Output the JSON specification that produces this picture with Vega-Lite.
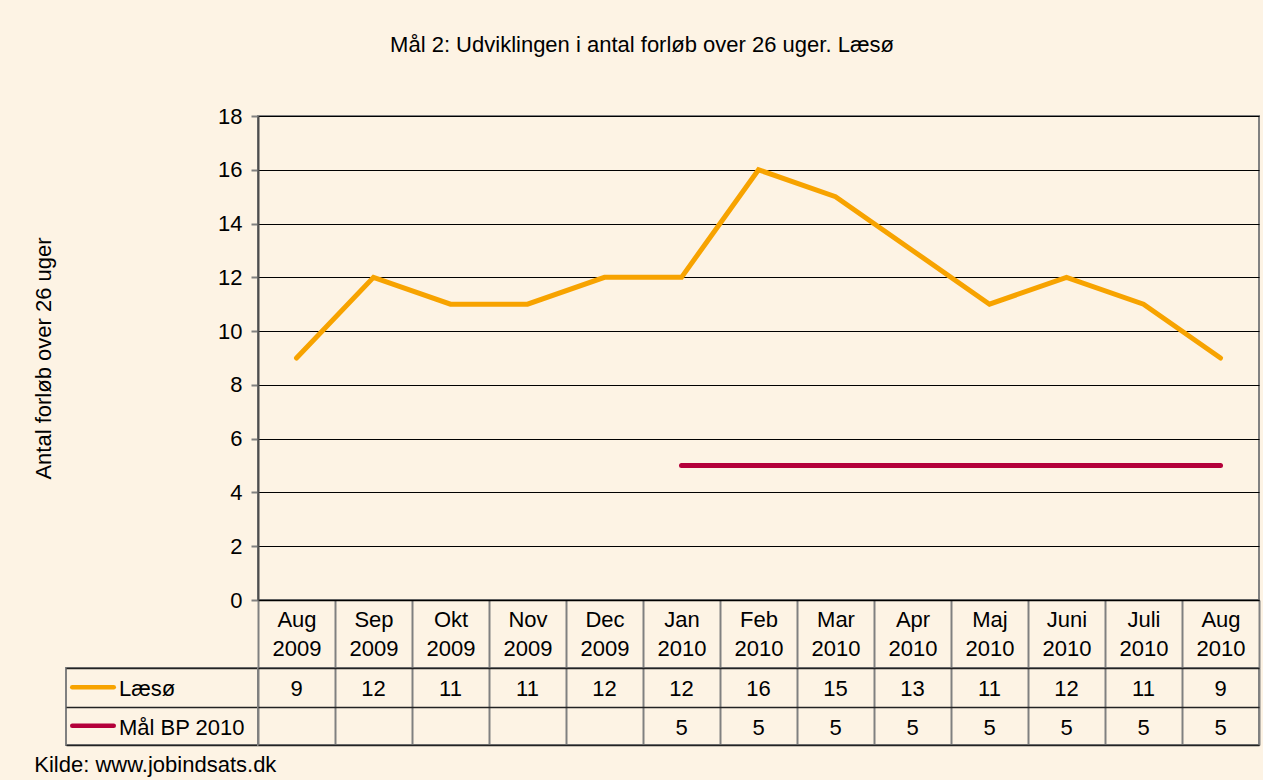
{
  "$schema": "https://vega.github.io/schema/vega-lite/v6.json",
  "autosize": {"type": "pad"},
  "padding": {"left": 31, "top": 34, "right": 5, "bottom": 3},
  "background": "#FDF3E4",
  "config": {
    "font": "Liberation Sans",
    "view": {"stroke": "#808080", "strokeWidth": 2},
    "axis": {"labelFont": "Liberation Sans", "titleFont": "Liberation Sans"}
  },
  "title": {
    "text": "Mål 2: Udviklingen i antal forløb over 26 uger. Læsø",
    "fontSize": 22,
    "fontWeight": "normal",
    "color": "#000000",
    "anchor": "middle",
    "offset": 47,
    "dx": -4
  },
  "datasets": {
    "main": [
      {"month": "Aug 2009", "series": "Læsø", "value": 9},
      {"month": "Sep 2009", "series": "Læsø", "value": 12},
      {"month": "Okt 2009", "series": "Læsø", "value": 11},
      {"month": "Nov 2009", "series": "Læsø", "value": 11},
      {"month": "Dec 2009", "series": "Læsø", "value": 12},
      {"month": "Jan 2010", "series": "Læsø", "value": 12},
      {"month": "Feb 2010", "series": "Læsø", "value": 16},
      {"month": "Mar 2010", "series": "Læsø", "value": 15},
      {"month": "Apr 2010", "series": "Læsø", "value": 13},
      {"month": "Maj 2010", "series": "Læsø", "value": 11},
      {"month": "Juni 2010", "series": "Læsø", "value": 12},
      {"month": "Juli 2010", "series": "Læsø", "value": 11},
      {"month": "Aug 2010", "series": "Læsø", "value": 9},
      {"month": "Jan 2010", "series": "Mål BP 2010", "value": 5},
      {"month": "Feb 2010", "series": "Mål BP 2010", "value": 5},
      {"month": "Mar 2010", "series": "Mål BP 2010", "value": 5},
      {"month": "Apr 2010", "series": "Mål BP 2010", "value": 5},
      {"month": "Maj 2010", "series": "Mål BP 2010", "value": 5},
      {"month": "Juni 2010", "series": "Mål BP 2010", "value": 5},
      {"month": "Juli 2010", "series": "Mål BP 2010", "value": 5},
      {"month": "Aug 2010", "series": "Mål BP 2010", "value": 5}
    ],
    "legend": [
      {"series": "Læsø"},
      {"series": "Mål BP 2010"}
    ]
  },
  "bounds": "flush",
  "columns": 2,
  "spacing": {"row": 68, "column": 0},
  "concat": [
    {
      "width": 192,
      "height": 484,
      "view": {"stroke": null},
      "data": {"values": [{}]},
      "mark": {"type": "text", "text": ""},
      "encoding": {}
    },
    {
      "width": 1001,
      "height": 484,
      "data": {"name": "main"},
      "mark": {"type": "line", "strokeWidth": 5, "strokeCap": "round", "strokeJoin": "miter"},
      "encoding": {
        "x": {
          "field": "month",
          "type": "ordinal",
          "sort": ["Aug 2009", "Sep 2009", "Okt 2009", "Nov 2009", "Dec 2009", "Jan 2010", "Feb 2010", "Mar 2010", "Apr 2010", "Maj 2010", "Juni 2010", "Juli 2010", "Aug 2010"],
          "scale": {
            "type": "band",
            "domain": ["Aug 2009", "Sep 2009", "Okt 2009", "Nov 2009", "Dec 2009", "Jan 2010", "Feb 2010", "Mar 2010", "Apr 2010", "Maj 2010", "Juni 2010", "Juli 2010", "Aug 2010"],
            "paddingInner": 0,
            "paddingOuter": 0
          },
          "axis": {
            "title": null,
            "grid": false,
            "tickBand": "extent",
            "tickSize": 68,
            "tickColor": "#808080",
            "tickWidth": 2,
            "domainColor": "#000000",
            "domainWidth": 1.5,
            "labelExpr": "isValid(datum.value) ? split(datum.value, ' ') : ''",
            "labelFontSize": 22,
            "labelColor": "#000000",
            "labelPadding": -59,
            "labelBaseline": "top",
            "labelLineHeight": 29,
            "labelAngle": 0,
            "labelOverlap": false,
            "labelBound": false
          }
        },
        "y": {
          "field": "value",
          "type": "quantitative",
          "scale": {"domain": [0, 18], "nice": false},
          "axis": {
            "title": "Antal forløb over 26 uger",
            "titleFontSize": 22,
            "titleFontWeight": "normal",
            "titleColor": "#000000",
            "titlePadding": 162,
            "titleBaseline": "bottom",
            "minExtent": 41,
            "maxExtent": 41,
            "values": [0, 2, 4, 6, 8, 10, 12, 14, 16, 18],
            "labelFontSize": 22,
            "labelColor": "#000000",
            "labelPadding": 9,
            "tickSize": 7,
            "tickColor": "#808080",
            "tickWidth": 2,
            "domainColor": "#4D4D4D",
            "domainWidth": 2,
            "grid": true,
            "gridColor": "#000000",
            "gridWidth": 1
          }
        },
        "color": {
          "field": "series",
          "type": "nominal",
          "scale": {"domain": ["Læsø", "Mål BP 2010"], "range": ["#F7A300", "#B4003A"]},
          "legend": null
        }
      }
    },
    {
      "width": 192,
      "height": 77,
      "data": {"name": "legend"},
      "title": {
        "text": "Kilde: www.jobindsats.dk",
        "orient": "bottom",
        "anchor": "start",
        "fontSize": 22,
        "fontWeight": "normal",
        "color": "#000000",
        "offset": 10,
        "dx": -29
      },
      "encoding": {
        "y": {
          "field": "series",
          "type": "nominal",
          "scale": {"domain": ["Læsø", "Mål BP 2010"], "paddingInner": 0, "paddingOuter": 0},
          "axis": {"title": null, "labels": false, "ticks": false, "domain": false, "grid": true, "tickBand": "extent", "gridColor": "#222222", "gridWidth": 1.5}
        }
      },
      "layer": [
        {
          "mark": {"type": "point", "shape": "stroke", "size": 1722, "strokeWidth": 4.5, "strokeCap": "round", "filled": false, "opacity": 1, "xOffset": -69},
          "encoding": {
            "color": {
              "field": "series",
              "type": "nominal",
              "scale": {"domain": ["Læsø", "Mål BP 2010"], "range": ["#F7A300", "#B4003A"]},
              "legend": null
            }
          }
        },
        {
          "mark": {"type": "text", "align": "left", "baseline": "middle", "dx": -43, "dy": 2, "fontSize": 22, "color": "#000000"},
          "encoding": {"text": {"field": "series", "type": "nominal"}}
        }
      ]
    },
    {
      "width": 1001,
      "height": 77,
      "data": {"name": "main"},
      "mark": {"type": "text", "fontSize": 22, "color": "#000000", "baseline": "middle", "dy": 2},
      "encoding": {
        "x": {
          "field": "month",
          "type": "ordinal",
          "scale": {
            "type": "band",
            "domain": ["Aug 2009", "Sep 2009", "Okt 2009", "Nov 2009", "Dec 2009", "Jan 2010", "Feb 2010", "Mar 2010", "Apr 2010", "Maj 2010", "Juni 2010", "Juli 2010", "Aug 2010"],
            "paddingInner": 0,
            "paddingOuter": 0
          },
          "axis": {"title": null, "labels": false, "ticks": false, "domain": false, "grid": true, "tickBand": "extent", "gridColor": "#808080", "gridWidth": 2}
        },
        "y": {
          "field": "series",
          "type": "nominal",
          "scale": {"domain": ["Læsø", "Mål BP 2010"], "paddingInner": 0, "paddingOuter": 0},
          "axis": {"title": null, "labels": false, "ticks": false, "domain": false, "grid": true, "tickBand": "extent", "gridColor": "#222222", "gridWidth": 1.5}
        },
        "text": {"field": "value", "type": "quantitative"}
      }
    }
  ]
}
